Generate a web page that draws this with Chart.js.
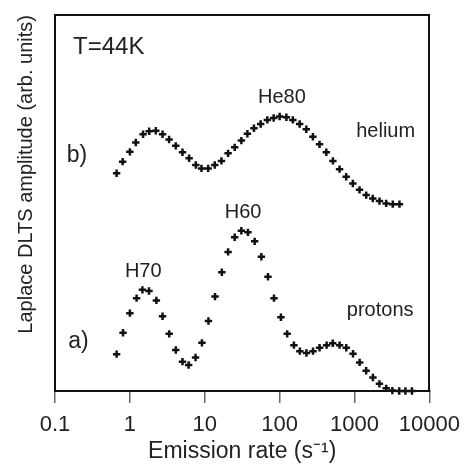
<!DOCTYPE html>
<html lang="en">
<head>
  <meta charset="UTF-8" />
  <title>Laplace DLTS spectra</title>
  <script src="https://cdn.jsdelivr.net/npm/chart.js"></script>
  <style>
    body { margin: 0; background: #fff; }
    #wrap { width: 469px; height: 465px; }
  </style>
</head>
<body>
  <div id="wrap"><canvas id="dlts" width="469" height="465"></canvas></div>

  <script>
    // emission rates (s^-1) and amplitudes (arb. units)
    const protonRate = [0.665, 0.81, 1.0, 1.23, 1.47, 1.80, 2.26, 2.73, 3.35, 4.10, 5.04, 6.09, 7.53, 9.17, 11.2, 13.7, 16.9, 20.5, 25.1, 30.8, 37.7, 46.4, 57.0, 69.8, 84.0, 104, 126, 155, 186, 228, 279, 341, 424, 512, 631, 776, 955, 1170, 1430, 1760, 2150, 2650, 3200, 3950, 4780, 5840];
    const protonAmp = [9.8, 15.5, 20.7, 24.7, 26.9, 26.6, 24.1, 19.9, 15.2, 10.9, 7.8, 6.9, 8.9, 12.8, 18.6, 25.1, 31.6, 37.0, 40.9, 42.6, 42.2, 39.8, 35.7, 30.4, 24.7, 19.6, 15.2, 12.2, 10.6, 10.1, 10.6, 11.5, 12.2, 12.7, 12.2, 11.5, 9.9, 7.6, 5.4, 3.6, 1.9, 0.7, 0.1, 0, 0, 0];

    const heliumRate = [0.665, 0.80, 1.0, 1.20, 1.50, 1.81, 2.22, 2.73, 3.34, 4.10, 5.04, 6.18, 7.59, 9.04, 11.1, 13.6, 16.7, 20.5, 25.1, 30.8, 37.1, 45.4, 55.8, 68.5, 83.2, 100, 123, 150, 185, 227, 278, 341, 420, 514, 631, 774, 949, 1166, 1432, 1754, 2154, 2647, 3243, 3981];
    const heliumAmp = [57.9, 61.0, 63.6, 66.1, 68.3, 69.1, 69.2, 68.3, 66.9, 65.2, 63.5, 61.9, 60.1, 59.2, 59.2, 60.1, 61.2, 63.2, 64.8, 66.6, 68.4, 69.9, 71.0, 72.1, 72.6, 73.0, 72.8, 72.1, 71.0, 69.6, 67.6, 65.6, 63.5, 61.2, 59.0, 57.0, 55.2, 53.5, 52.1, 51.2, 50.5, 49.9, 49.7, 49.7];

    const tickValues = [0.1, 1, 10, 100, 1000, 10000];
    const tickLabels = ['0.1', '1', '10', '100', '1000', '10000'];

    // text written inside the plot, placed in data coordinates (left edge, baseline)
    const notes = [
      { text: 'T=44K', x: 0.174, y: 89.6, size: 24 },
      { text: 'b)', x: 0.143, y: 60.9, size: 23 },
      { text: 'a)', x: 0.150, y: 11.4, size: 23 },
      { text: 'H70', x: 0.858, y: 30.4, size: 20 },
      { text: 'H60', x: 18.5, y: 45.9, size: 20 },
      { text: 'He80', x: 51.4, y: 76.7, size: 20 },
      { text: 'helium', x: 1054, y: 67.6, size: 20 },
      { text: 'protons', x: 789, y: 19.9, size: 20 }
    ];

    const FONT = "'Liberation Sans', Arial, sans-serif";
    const INK = '#111';

    const toPoints = (xs, ys) => xs.map((x, i) => ({ x: x, y: ys[i] }));

    const notesPlugin = {
      id: 'notes',
      afterDatasetsDraw(chart) {
        const ctx = chart.ctx;
        const xs = chart.scales.x, ys = chart.scales.y;
        ctx.save();
        ctx.fillStyle = '#222';
        ctx.textAlign = 'left';
        ctx.textBaseline = 'alphabetic';
        notes.forEach(n => {
          ctx.font = n.size + 'px ' + FONT;
          ctx.fillText(n.text, xs.getPixelForValue(n.x), ys.getPixelForValue(n.y));
        });
        ctx.restore();
      }
    };

    const crossStyle = {
      showLine: false,
      pointStyle: 'cross',
      pointRadius: 3.7,
      pointBorderWidth: 2.5,
      borderColor: INK,
      backgroundColor: INK,
      clip: false
    };

    new Chart(document.getElementById('dlts'), {
      type: 'scatter',
      data: {
        datasets: [
          Object.assign({ label: 'protons', data: toPoints(protonRate, protonAmp) }, crossStyle),
          Object.assign({ label: 'helium', data: toPoints(heliumRate, heliumAmp) }, crossStyle)
        ]
      },
      options: {
        responsive: false,
        animation: false,
        layout: { padding: { top: 15, right: 39, bottom: 0, left: 0 } },
        plugins: { legend: { display: false }, tooltip: { enabled: false } },
        scales: {
          x: {
            type: 'logarithmic',
            position: 'bottom',
            min: 0.1,
            max: 10000,
            afterBuildTicks: scale => { scale.ticks = tickValues.map(v => ({ value: v })); },
            ticks: {
              autoSkip: false,
              maxRotation: 0,
              padding: 9,
              color: '#222',
              font: { family: FONT, size: 22 },
              callback: (value, i) => tickLabels[i]
            },
            grid: { drawOnChartArea: false, drawTicks: true, tickLength: 12, color: '#666', lineWidth: 1.5 },
            border: { display: true, color: INK, width: 2 },
            title: {
              display: true,
              text: 'Emission rate (s\u207B\u00B9)',
              color: '#222',
              font: { family: FONT, size: 23 },
              padding: { top: -10, bottom: 0 }
            }
          },
          x2: {
            type: 'logarithmic',
            position: 'top',
            min: 0.1,
            max: 10000,
            ticks: { display: false },
            grid: { display: false, drawTicks: false },
            border: { display: true, color: INK, width: 2 }
          },
          y: {
            type: 'linear',
            position: 'left',
            min: 0,
            max: 100,
            ticks: { display: false },
            grid: { display: false, drawTicks: false },
            border: { display: true, color: INK, width: 2 },
            title: {
              display: true,
              text: 'Laplace DLTS amplitude (arb. units)',
              align: 'end',
              color: '#222',
              font: { family: FONT, size: 20 },
              padding: { top: 14, bottom: 17 }
            }
          },
          y2: {
            type: 'linear',
            position: 'right',
            min: 0,
            max: 100,
            ticks: { display: false },
            grid: { display: false, drawTicks: false },
            border: { display: true, color: INK, width: 2 }
          }
        }
      },
      plugins: [notesPlugin]
    });
  </script>
</body>
</html>
